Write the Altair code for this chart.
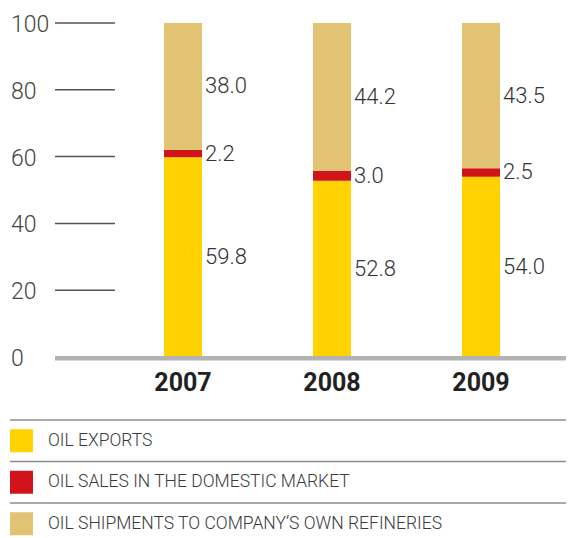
import altair as alt
import pandas as pd

years = [2007, 2008, 2009]
exports = [59.8, 52.8, 54.0]
domestic = [2.2, 3.0, 2.5]
refineries = [38.0, 44.2, 43.5]
categories = ["OIL EXPORTS", "OIL SALES IN THE DOMESTIC MARKET",
              "OIL SHIPMENTS TO COMPANY’S OWN REFINERIES"]
colors = ["#FFD200", "#D0141A", "#E1C373"]
y_ticks = [0, 20, 40, 60, 80, 100]

rows = []
for i, yr in enumerate(years):
    for k, vals in enumerate([exports, domestic, refineries]):
        rows.append({"year": yr, "year_str": str(yr), "cat": categories[k],
                     "order": k, "value": vals[i]})
df = pd.DataFrame(rows)
ticks_df = pd.DataFrame({"tick": y_ticks})
legend_df = pd.DataFrame({"cat": categories, "idx": [0, 1, 2],
                          "mid": [0.5, 1.5, 2.5]})
years_df = pd.DataFrame({"year": years, "year_str": [str(y) for y in years]})

W, H = 558, 530
FONT = "Roboto"
xs = alt.Scale(domain=[2007, 2009], range=[175, 473], padding=0, nice=False, zero=False)
ys = alt.Scale(domain=[0, 100], range=[349, 15], nice=False)
cs = alt.Scale(domain=categories, range=colors)

base = alt.Chart(df).transform_stack(
    stack="value", groupby=["year"], sort=[{"field": "order", "order": "ascending"}],
    as_=["y0", "y1"]
).transform_calculate(mid="(datum.y0 + datum.y1) / 2")

bars = base.mark_bar(size=38).encode(
    x=alt.X("year:Q", scale=xs, axis=None),
    y=alt.Y("y0:Q", scale=ys, axis=None),
    y2="y1:Q",
    color=alt.Color("cat:N", scale=cs, legend=None),
)

vlabels = base.mark_text(align="left", baseline="middle", dx=22, font=FONT,
                         fontSize=22, fontWeight=300, color="#333333").encode(
    x=alt.X("year:Q", scale=xs, axis=None),
    y=alt.Y("mid:Q", scale=ys, axis=None),
    text=alt.Text("value:Q", format=".1f"),
)

grid = alt.Chart(ticks_df).transform_filter("datum.tick > 0").mark_rule(
    color="#555555", strokeWidth=1.5).encode(
    x=alt.value(47), x2=alt.value(107),
    y=alt.Y("tick:Q", scale=ys, axis=None),
)

tlabels = alt.Chart(ticks_df).mark_text(align="left", baseline="middle", dy=2,
                                        font=FONT, fontSize=23, fontWeight=300,
                                        color="#444444").encode(
    x=alt.value(3),
    y=alt.Y("tick:Q", scale=ys, axis=None),
    text=alt.Text("tick:Q"),
)

baseline = alt.Chart(ticks_df).transform_filter("datum.tick == 0").mark_rule(
    color="#B3B3B3", strokeWidth=4.5).encode(
    x=alt.value(47), x2=alt.value(W), y=alt.value(350.3),
)

ylabels = alt.Chart(years_df).mark_text(align="center", baseline="middle",
                                        font=FONT, fontSize=25, fontWeight="bold",
                                        color="#222222").encode(
    x=alt.X("year:Q", scale=xs, axis=None),
    y=alt.value(375),
    text="year_str:N",
)

main = alt.layer(bars, vlabels, grid, tlabels, baseline, ylabels)

ls = alt.Scale(domain=[0, 3], range=[412, 536.5], nice=False, zero=False)
seps = alt.Chart(legend_df).mark_rule(color="#8C8C8C", strokeWidth=1.5).encode(
    x=alt.value(2), x2=alt.value(W),
    y=alt.Y("idx:Q", scale=ls, axis=None),
)
swatch = alt.Chart(legend_df).mark_square(size=529, opacity=1).encode(
    x=alt.value(13.5),
    y=alt.Y("mid:Q", scale=ls, axis=None),
    color=alt.Color("cat:N", scale=cs, legend=None),
)
ltext = alt.Chart(legend_df).mark_text(align="left", baseline="middle", font=FONT,
                                       fontSize=17.5, fontWeight=300,
                                       color="#3A3A3A").encode(
    x=alt.value(40),
    y=alt.Y("mid:Q", scale=ls, axis=None),
    text="cat:N",
)
legend = alt.layer(seps, swatch, ltext)

chart = alt.layer(main, legend).resolve_scale(y="independent").properties(
    width=W, height=H, padding=0,
    autosize=alt.AutoSizeParams(type="none"),
).configure_view(stroke=None)

chart.save("out.html", embed_options={"renderer": "svg", "actions": False})
